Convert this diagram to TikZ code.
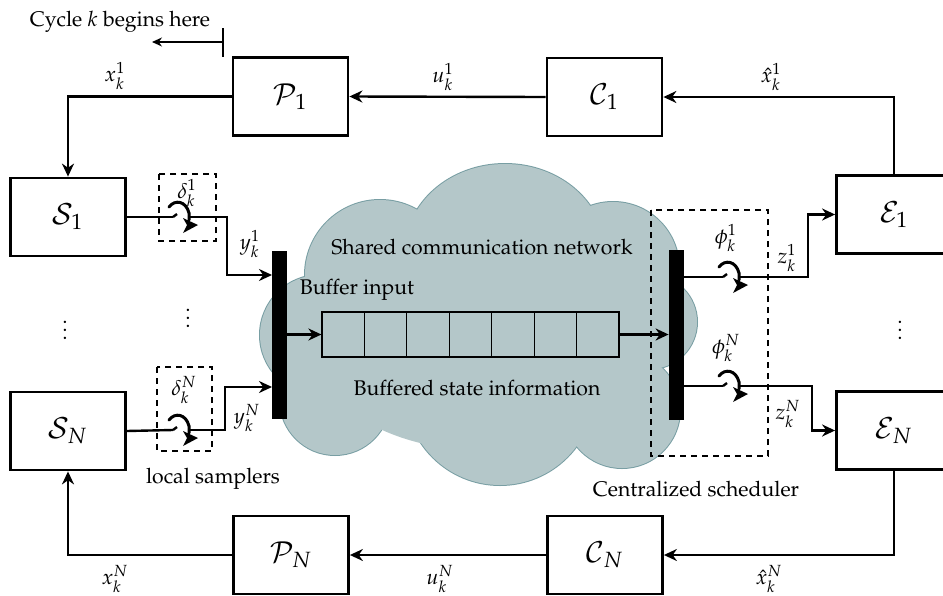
\documentclass[tikz,border=0pt]{standalone}
\usepackage[T1]{fontenc}
\usepackage{mathpazo}
\usetikzlibrary{arrows.meta,calc}
\definecolor{cloudfill}{RGB}{180,199,201}
\definecolor{cloudline}{RGB}{120,158,163}
\begin{document}
\begin{tikzpicture}[x=0.5pt,y=-0.5pt,
  font=\fontsize{10.6}{12.7}\selectfont,
  blk/.style={draw,line width=1.4pt,minimum width=57.5pt,minimum height=39pt,inner sep=0pt,font=\fontsize{14.5}{16}\selectfont},
  conn/.style={line width=1.2pt},
  arr/.style={conn,-{Stealth[length=6.5pt,width=6pt]}},
  thinarr/.style={line width=0.6pt,-{Stealth[length=5pt,width=4.5pt]}},
  barbox/.style={fill=black,draw=none,minimum width=7.5pt,minimum height=84pt,inner sep=0pt},
  dbox/.style={line width=0.8pt,dash pattern=on 3pt off 2.5pt},
  cell/.style={draw,line width=0.6pt,minimum width=21.2pt,minimum height=22.5pt,inner sep=0pt},
  lbl/.style={inner sep=0pt},
  pics/swtch/.style={code={
    \draw[line width=1.2pt] (-7,0) -- (-3,-3);
    \draw[line width=1.5pt,line cap=round] (-11,-10) .. controls (-5,-18) and (6,-16) .. (9,-4) -- (9,3);
    \fill (18,8) -- (3,1) -- (7,8) -- (3,16) -- cycle;
  }}
]
\useasboundingbox (0,0) rectangle (943,595);

% cloud
\begin{scope}
  \foreach \cx/\cy/\r in {380/275/75, 320/335/60, 335/400/55, 500/390/95, 622/410/58, 650/322/47, 613/268/66}
    \draw[cloudline,line width=1pt] (\cx,\cy) circle[radius=\r];
  \draw[cloudline,line width=1pt] (505,252) ellipse[x radius=100,y radius=88];
  \foreach \cx/\cy/\r in {380/275/75, 320/335/60, 335/400/55, 500/390/95, 622/410/58, 650/322/47, 613/268/66}
    \fill[cloudfill] (\cx,\cy) circle[radius=\r];
  \fill[cloudfill] (505,252) ellipse[x radius=100,y radius=88];
  \fill[cloudfill] (480,340) ellipse[x radius=170,y radius=110];
\end{scope}

% blocks
\node[blk] (P1) at (290.5,96.5) {$\mathcal{P}_1$};
\node[blk] (C1) at (604.5,97) {$\mathcal{C}_1$};
\node[blk] (S1) at (68,217) {$\mathcal{S}_1$};
\node[blk] (SN) at (68,431) {$\mathcal{S}_N$};
\node[blk] (E1) at (894,214.5) {$\mathcal{E}_1$};
\node[blk] (EN) at (894,430.5) {$\mathcal{E}_N$};
\node[blk] (PN) at (291,555) {$\mathcal{P}_N$};
\node[blk] (CN) at (605,555) {$\mathcal{C}_N$};

% bars
\node[barbox] (lbar) at (279.5,335) {};
\node[barbox,minimum height=85pt] (rbar) at (676.5,335) {};

% queue
\foreach \i in {1,...,7}
  \node[cell] (q\i) at ({322+42.43*(\i-0.5)},334.5) {};

% dashed boxes
\draw[dbox] (159,174) rectangle (216,241);
\draw[dbox] (157,367) rectangle (212,451);
\draw[dbox] (651,210) rectangle (768,456);

% switches
\pic at (180,217) {swtch};
\pic at (180,430) {swtch};
\pic at (730,277) {swtch};
\pic at (730,386) {swtch};

% coordinates
\coordinate (s1in) at (173,217);
\coordinate (s1out) at (189,217);
\coordinate (sNin) at (173,430);
\coordinate (sNout) at (189,430);
\coordinate (y1c) at (227,217);
\coordinate (yNc) at (225,430);
\coordinate (y1t) at (272,275);
\coordinate (yNt) at (272,387);
\coordinate (p1in) at (723,277);
\coordinate (p1out) at (739,277);
\coordinate (pNin) at (723,386);
\coordinate (pNout) at (739,386);
\coordinate (z1c) at (808,277);
\coordinate (zNc) at (812,386);

% connectors
\draw[arr] (E1.north) |- (C1.east);
\draw[arr] (C1.west) -- (P1.east);
\draw[arr] (P1.west) -| (S1.north);
\draw[arr] (EN.south) |- (CN.east);
\draw[arr] (CN.west) -- (PN.east);
\draw[arr] (PN.west) -| (SN.south);

\draw[conn] (S1.east) -- (s1in);
\draw[conn] (SN.east) -- (sNin);
\draw[arr] (s1out) -- (y1c) |- (y1t);
\draw[arr] (sNout) -- (yNc) |- (yNt);
\draw[arr] (lbar.east |- q1.west) -- (q1.west);
\draw[arr] (q7.east) -- (rbar.west |- q7.east);
\draw[conn] (rbar.east |- p1in) -- (p1in);
\draw[conn] (rbar.east |- pNin) -- (pNin);
\draw[arr] (p1out) -- (z1c) |- (E1.west);
\draw[arr] (pNout) -- (zNc) |- (EN.west);

% cycle marker
\coordinate (ctop) at (223,28);
\coordinate (cbot) at (223,57);
\coordinate (cmid) at (223,42);
\coordinate (cend) at (152,42);
\draw[line width=0.6pt] (ctop) -- (cbot);
\draw[thinarr] (cmid) -- (cend);
\node[lbl] (cyc) at (120,22) {Cycle $k$ begins here};

% signal labels
\node[lbl] (lx1) at (115,76) {$x_k^1$};
\node[lbl] (lu1) at (443,77) {$u_k^1$};
\node[lbl] (lxh1) at (771,77) {$\hat{x}_k^1$};
\node[lbl] (lxN) at (115,579) {$x_k^N$};
\node[lbl] (luN) at (440,579) {$u_k^N$};
\node[lbl] (lxhN) at (769,579) {$\hat{x}_k^N$};
\node[lbl] (ld1) at (187,193) {$\delta_k^1$};
\node[lbl] (ldN) at (184,390) {$\delta_k^N$};
\node[lbl] (ly1) at (250,244) {$y_k^1$};
\node[lbl] (lyN) at (247,418) {$y_k^N$};
\node[lbl] (lf1) at (726,238) {$\phi_k^1$};
\node[lbl] (lfN) at (726,348) {$\phi_k^N$};
\node[lbl] (lz1) at (787,258) {$z_k^1$};
\node[lbl] (lzN) at (788,414) {$z_k^N$};

% text labels
\node[lbl] (tnet) at (482,247) {Shared communication network};
\node[lbl] (tbin) at (357,290) {Buffer input};
\node[lbl] (tbuf) at (477,388) {Buffered state information};
\node[lbl] (tloc) at (213,479) {local samplers};
\node[lbl] (tsch) at (696,489) {Centralized scheduler};

% dots
\node[lbl] (d1) at (65,324) {$\vdots$};
\node[lbl] (d2) at (188,312) {$\vdots$};
\node[lbl] (d3) at (900,324) {$\vdots$};
\end{tikzpicture}
\end{document}
